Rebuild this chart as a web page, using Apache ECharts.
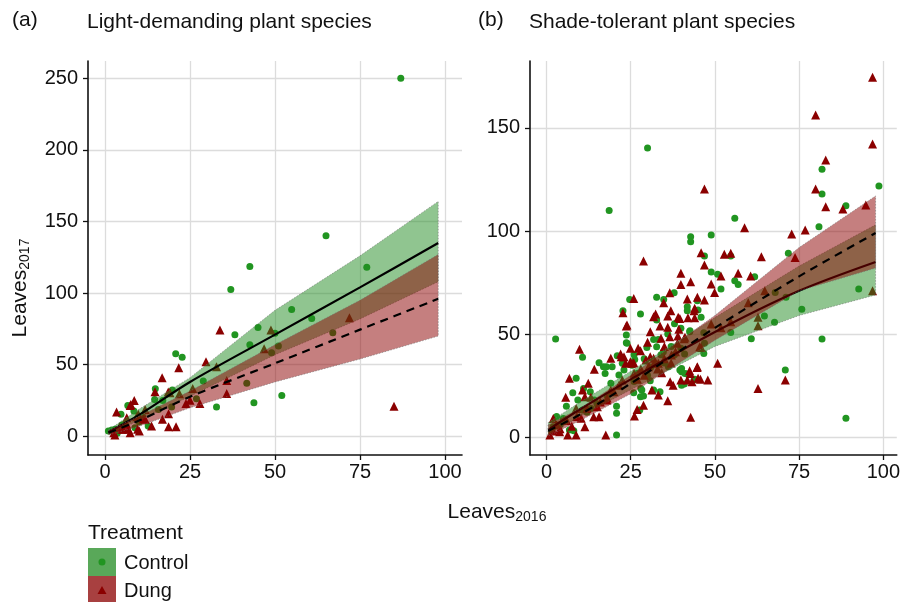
<!DOCTYPE html>
<html><head><meta charset="utf-8">
<script src="https://cdn.jsdelivr.net/npm/echarts@6/dist/echarts.min.js"></script>
<style>html,body{margin:0;padding:0;background:#fff}#c{width:903px;height:602px}</style>
</head><body><div id="c"></div>
<script>
const FONT = '"Liberation Sans", Arial, Helvetica, sans-serif';
const INK = '#111';
const xTicks = [0, 25, 50, 75, 100];
const yTicksA = [0, 50, 100, 150, 200, 250];
const yTicksB = [0, 50, 100, 150];

// ---- (a) Light-demanding: points [Leaves2016, Leaves2017]
const lightControl = [[87,250],[65,140],[42.6,118.6],[77,118],[37,102.6],[38.2,71],[45,76],[54.9,88.6],[60.8,82.3],[42.6,64],[50,71.9],[49,58.4],[51,63],[67,72.4],[43.8,23.5],[52,28.6],[20.8,57.7],[22.7,55.3],[32.8,20.5],[14.8,33.3],[14.6,25.8],[19.8,32.3],[12.7,7.2],[8.8,6],[6.7,21.6],[4.7,15.4],[1,3.7],[3.6,2.1],[8.5,17.7],[28.9,38.6],[26.9,26.3],[19.6,20.5],[15.7,18.8],[41.7,37],[2,4.5],[5,8],[10,10],[17,25],[11,14],[3,5]];
const lightDung = [[33.8,74.2],[29.7,52.1],[32.8,48.6],[21.7,47.9],[16.8,41],[35.8,39],[25.8,33.5],[21.9,29.8],[35.8,30],[46.8,61.2],[48.8,74.2],[71.9,82.8],[85,21],[27.9,23],[23.8,23],[25,25.3],[18.7,15.8],[16.9,11.9],[18.7,6.8],[20.9,6.8],[14.7,31.2],[8.6,25.1],[7.4,21.6],[3.4,17],[11.8,18.8],[9.3,13.7],[6.4,8.4],[10.1,3.7],[5.4,4.9],[2.9,0.9],[4.3,6.6],[11.3,12.3],[19.1,30.5],[7.4,2.6],[18.6,30.9],[7.6,22.3],[9.8,15.4],[11.8,11.9],[6.4,13],[6.9,4.9],[9.6,4.9],[4.9,4.9],[2.6,2.6],[13.7,7.2]];
const fitXA = [1, 10, 25, 50, 75, 98];
const fitControlA = [3, 15, 38, 71, 104, 135];
const fitDungA = [2.5, 11, 27.7, 51, 74.5, 96];
const ciControlLoA = [1.5, 11, 28, 57, 82, 108];
const ciControlHiA = [4.5, 19, 41, 88, 126, 164];
const ciDungLoA = [1, 7, 20, 38, 54, 70];
const ciDungHiA = [4, 14, 31.6, 64, 95, 127];

// ---- (b) Shade-tolerant
const shadeControl = [[30,140.3],[98.7,121.8],[81.8,130],[81.8,118],[18.6,110],[88.9,9.1],[81.8,47.6],[2.7,47.6],
[88.9,112.3],[80.9,102.1],[55.9,106.2],[42.8,97.2],[42.8,94.8],[48.9,98.1],[46.9,87.9],[54.7,87.9],[71.8,89.2],[48.9,80.1],[50.8,79],[51.8,71.8],[55.9,75.9],[56.9,74.1],[61.8,77.8],[92.7,71.8],[44.8,66.2],[41.8,63.3],[41.8,61.3],[45.9,58.1],[39.9,52.8],[42.6,51.6],[46.7,50.6],[46.7,40.6],[41,40.3],[40.1,33.3],[40.1,31.7],[41.8,30.6],[40.9,25.7],[43.8,27.7],[60.8,47.7],[67.7,55.7],[75.8,62],[70.9,32.5],[54.7,50.8],[71.1,67.8],[64.7,58.7],[46.9,45.5],[67.9,70.2],
[37.9,70],[32.7,67.8],[34.8,66.8],[24.7,66.8],[22.7,61.3],[27.9,59.7],[32.7,56.8],[23.7,49.5],[23.7,45.8],[31.8,47.4],[33.2,47.4],[32.7,43.8],[34.7,41.4],[42.5,51.1],[39.9,43.1],[21,39.5],[26.2,37.7],[25.4,34.8],[15.6,36.1],[17.8,34.1],[36.2,34.1],[45,61.7],
[10.7,38.7],[8.8,28.5],[7.8,21.5],[9.3,18],[5.9,15],[10.7,13.1],[11,23.6],[13,22],[16.9,34.1],[17.4,30.9],[22.5,35.8],[23.9,45.5],[19.5,34.1],[25.9,21.5],[20.8,15],[20.8,11.5],[20.8,1],[6.8,3.4],[8.1,3.1],[14.2,18],[13.2,13.9],[27.9,19.6],[27.7,13.1],[19.1,26.1],[21.5,30.1],[28,23.6],
[39.6,32.5],[41.1,30.9],[40.1,25.2],[31.8,22.8],[33.7,22],[28.3,22.8],[28.8,19.9],[30.8,27.3],[44,28],[29.8,43.5],[23,32.5],
[2,5],[4,6],[5,9],[12,12],[15,16],[18,20],[26,27],[30,30],[35,36],[38,40],[3,10],[1.5,3],
[27,31],[31,34],[34,40],[37,44],[26,40],[29,38],[36,50],[38,55]];
const shadeDung = [[96.8,174.6],[79.9,156.3],[96.8,142.2],[82.9,134.5],[46.9,120.4],[79.9,120.4],[96.8,71],
[82.9,111.8],[88,110.7],[94.8,112.6],[58.8,101.6],[72.8,98.5],[76.8,100.5],[45.9,89.5],[52.8,88.7],[54.7,89.2],[46.9,83.5],[63.8,87.5],[73.8,87.2],[39.9,79.5],[42.8,75.4],[48.9,74.3],[51.8,78.2],[56.9,79.5],[60.6,78.2],[49.9,70.2],[39.9,74.1],[41.8,67],[46.9,66.5],[44.8,67.8],[64.8,71],[59.9,65.2],[39.6,57.6],[42,57.9],[44,62.5],[44,57.9],[48.9,54.9],[51.8,53.1],[54.7,56],[62.8,58.1],[62.8,54],[40.9,47.7],[45.9,43.5],[50.8,35.8],[44.7,33.8],[42.7,30.9],[45,28.5],[47.9,27.7],[43.2,26.8],[70.9,27.7],[62.8,23.6],[42.8,9.6],[39.9,27.7],
[28.8,85.4],[36.6,70],[25.9,67.3],[34.8,65.2],[22.7,60.3],[32.4,59.7],[36.9,61.3],[36,58.7],[39.1,58.1],[43.8,61.3],[31.8,58.4],[33.7,53.9],[23.7,53.9],[36,53.3],[39.3,52.3],[30.8,51.1],[36.6,48.7],[41.1,48.4],[24.9,43.1],[27.2,43.1],[27.9,41.9],[22,40.3],[23,39],[19.1,38.2],[30.8,39],[45.5,43.8],[38.3,41.4],[38.9,45.5],[37.1,39.8],[44.8,34.1],[24.9,36.6],[29.5,37.4],[30.3,34.1],
[23.9,54.4],[9.8,42.6],[14.2,32.9],[6.8,28.5],[5.7,19.3],[8.8,13.9],[11.4,19.6],[10.3,9.1],[11.4,5],[8.8,1],[6.3,1],[3.9,2.6],[17.6,1],[14,9.9],[15.6,9.9],[17.9,18],[22.2,39],[23.5,35.8],[25.9,36.1],[12.4,26.1],[15.1,14.7],[10.7,22.8],[7.5,5.3],[13.2,19.3],[19.1,22.8],[21.5,25.2],[26.1,10.2],
[25.4,35.8],[31.8,38.2],[33.2,35.8],[34.2,31.2],[36.7,26.8],[37.6,25.2],[41.8,27.7],[45.7,28],[42.5,32.2],[36,17.6],[28.8,15.5],[26.9,13.4],[22.5,27.7],[33.2,20.4],[31.3,22.8],
[2,3],[3,6],[4,4],[6,8],[9,10],[12,14],[16,17],[18,19],[20,22],[27,28],[29,30],[33,33],[35,38],[37,36],[1,1],[2,9],
[28,33],[32,36],[35,44],[39,49],[26,31],[30,46],[34,48]];
const fitXB = [0.5, 10, 25, 50, 75, 97.7];
const fitControlB = [3.5, 13.5, 28, 51, 71, 85];
const fitDungB = [3, 11, 26, 53, 78, 99];
const ciControlLoB = [1, 10, 23, 44, 59, 69];
const ciControlHiB = [7, 17, 32, 58, 83, 103];
const ciDungLoB = [0.5, 8, 21, 47, 71, 82];
const ciDungHiB = [6, 14, 30, 59, 92, 117];

const GREEN_PT = '#219521';
const RED_PT = '#8b0000';
const GREEN_BAND = 'rgba(34,139,34,0.5)';
const RED_BAND = 'rgba(139,0,0,0.5)';

function zip(xs, ys) { return xs.map((x, i) => [x, ys[i]]); }

function xAxis(gi, min, max) {
  return { type: 'value', gridIndex: gi, min: min, max: max,
    axisLine: { show: true, onZero: false, lineStyle: { color: INK, width: 1.6 } },
    axisTick: { show: true, length: 5, customValues: xTicks, lineStyle: { color: INK, width: 1.3 } },
    axisLabel: { customValues: xTicks, fontSize: 20, fontFamily: FONT, color: INK, margin: 7 },
    splitLine: { show: true, lineStyle: { color: '#dcdcdc', width: 1.3 } } };
}
function yAxis(gi, min, max, ticks) {
  return { type: 'value', gridIndex: gi, min: min, max: max,
    axisLine: { show: true, onZero: false, lineStyle: { color: INK, width: 1.6 } },
    axisTick: { show: true, length: 5, customValues: ticks, lineStyle: { color: INK, width: 1.3 } },
    axisLabel: { customValues: ticks, fontSize: 20, fontFamily: FONT, color: INK, margin: 10 },
    splitLine: { show: true, lineStyle: { color: '#dcdcdc', width: 1.3 } } };
}
function scatter(gi, data, symbol, size, color, z) {
  return { type: 'scatter', xAxisIndex: gi, yAxisIndex: gi, data: data, symbol: symbol,
    symbolSize: size, itemStyle: { color: color, opacity: 1 }, z: z, silent: true };
}
function band(gi, xs, lo, hi, color, z) {
  const data = xs.map((x, i) => [x, lo[i], hi[i]]);
  return { type: 'custom', xAxisIndex: gi, yAxisIndex: gi, z: z, silent: true, data: data,
    encode: { x: 0, y: [1, 2] },
    renderItem: function (params, api) {
      if (params.dataIndex !== 0) return null;
      const top = data.map(d => api.coord([d[0], d[2]]));
      const bot = data.map(d => api.coord([d[0], d[1]])).reverse();
      return { type: 'polygon', shape: { points: top.concat(bot) },
        style: { fill: color, stroke: 'rgba(110,110,110,0.55)', lineWidth: 1, lineDash: [1.5, 1.5] } };
    } };
}
function fit(gi, xs, ys, dashed, z) {
  return { type: 'line', xAxisIndex: gi, yAxisIndex: gi, data: zip(xs, ys), showSymbol: false,
    smooth: 0.3, z: z, silent: true,
    lineStyle: { color: '#000', width: 2.2, type: dashed ? [8, 6] : 'solid' } };
}
function txt(x, y, text, size, extra) {
  return Object.assign({ type: 'text', x: x, y: y,
    style: { text: text, fontSize: size, fontFamily: FONT, fill: INK, verticalAlign: 'middle', align: 'left' } }, extra || {});
}
const subRich = { a: { fontSize: 21, fontFamily: FONT, fill: INK },
  s: { fontSize: 14, fontFamily: FONT, fill: INK, padding: [11, 0, 0, 0] } };

const chart = echarts.init(document.getElementById('c'), null, { renderer: 'canvas' });
chart.setOption({
  animation: false,
  backgroundColor: '#fff',
  grid: [
    { left: 88, top: 61, width: 374, height: 394 },
    { left: 530, top: 61, width: 371, height: 394 }
  ],
  xAxis: [xAxis(0, -5, 105), xAxis(1, -4.9, 104)],
  yAxis: [yAxis(0, -13, 262, yTicksA), yAxis(1, -8.7, 182.5, yTicksB)],
  series: [
    scatter(0, lightControl, 'circle', 7, GREEN_PT, 2),
    scatter(0, lightDung, 'triangle', 9, RED_PT, 3),
    band(0, fitXA, ciControlLoA, ciControlHiA, GREEN_BAND, 4),
    fit(0, fitXA, fitControlA, false, 5),
    band(0, fitXA, ciDungLoA, ciDungHiA, RED_BAND, 6),
    fit(0, fitXA, fitDungA, true, 7),
    scatter(1, shadeControl, 'circle', 7, GREEN_PT, 2),
    scatter(1, shadeDung, 'triangle', 9, RED_PT, 3),
    band(1, fitXB, ciControlLoB, ciControlHiB, GREEN_BAND, 4),
    fit(1, fitXB, fitControlB, false, 5),
    band(1, fitXB, ciDungLoB, ciDungHiB, RED_BAND, 6),
    fit(1, fitXB, fitDungB, true, 7)
  ],
  graphic: [
    txt(12, 20, '(a)', 21),
    txt(87, 22, 'Light-demanding plant species', 21),
    txt(478, 20, '(b)', 21),
    txt(529, 22, 'Shade-tolerant plant species', 21),
    { type: 'text', x: 20, y: 288, rotation: Math.PI / 2,
      style: { text: '{a|Leaves}{s|2017}', rich: subRich, align: 'center', verticalAlign: 'middle' } },
    { type: 'text', x: 497, y: 512,
      style: { text: '{a|Leaves}{s|2016}', rich: subRich, align: 'center', verticalAlign: 'middle' } },
    txt(88, 533, 'Treatment', 21),
    { type: 'rect', shape: { x: 88, y: 548, width: 28, height: 28 }, style: { fill: 'rgba(34,139,34,0.75)' } },
    { type: 'rect', shape: { x: 88, y: 576, width: 28, height: 28 }, style: { fill: 'rgba(139,0,0,0.75)' } },
    { type: 'circle', shape: { cx: 102, cy: 562, r: 3.5 }, style: { fill: GREEN_PT } },
    { type: 'polygon', shape: { points: [[102, 586], [97.5, 594], [106.5, 594]] }, style: { fill: RED_PT } },
    txt(124, 563, 'Control', 20),
    txt(124, 591, 'Dung', 20)
  ]
});
</script>
</body></html>
